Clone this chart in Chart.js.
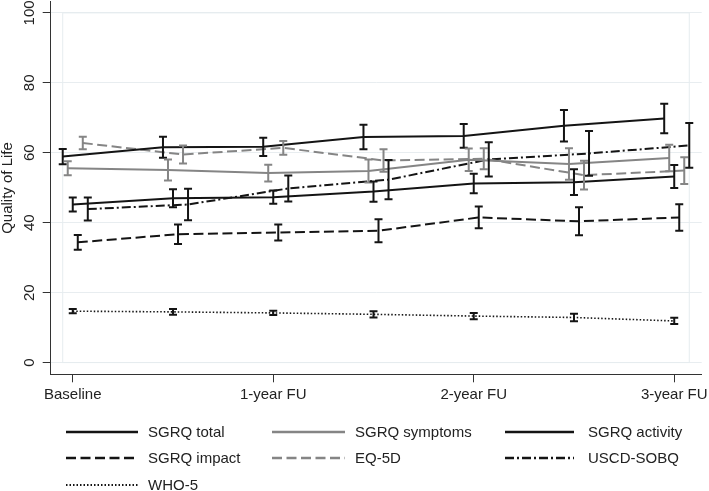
<!DOCTYPE html>
<html>
<head>
<meta charset="utf-8">
<script src="https://cdn.jsdelivr.net/npm/chart.js@4.4.1/dist/chart.umd.min.js"></script>
<style>
html,body{margin:0;padding:0;background:#fff;}
#wrap{position:relative;width:709px;height:491px;overflow:hidden;}
#legend{position:absolute;left:0;top:0;width:709px;height:491px;pointer-events:none;
  font-family:"Liberation Sans",Arial,sans-serif;font-size:15px;color:#222;}
.item{position:absolute;height:20px;line-height:20px;white-space:nowrap;}
.item svg{position:absolute;top:0;}
.item span{position:absolute;top:0;}
</style>
</head>
<body>
<div id="wrap">
  <canvas id="c" width="709" height="491"></canvas>
  <div id="legend"></div>
</div>
<script>
// ---------- data ----------
const timePoints = [0, 0.5, 1, 1.5, 2, 2.5, 3];
const tickValues = [0, 1, 2, 3];
const tickLabels = ['Baseline', '1-year FU', '2-year FU', '3-year FU'];
const yTickValues = [0, 20, 40, 60, 80, 100];
const yTitle = 'Quality of Life';
const seriesNames = ['SGRQ total', 'SGRQ symptoms', 'SGRQ activity', 'SGRQ impact', 'EQ-5D', 'USCD-SOBQ', 'WHO-5'];

const sgrqTotal        = [58.9, 61.6, 61.7, 64.5, 64.8, 67.7, 69.8];
const sgrqTotalErr     = [2.2, 3.0, 2.6, 3.5, 3.4, 4.5, 4.2];
const sgrqSymptoms     = [55.6, 55.1, 54.2, 54.8, 58.0, 56.8, 58.5];
const sgrqSymptomsErr  = [2.0, 3.0, 2.4, 3.3, 3.2, 4.5, 3.8];
const sgrqActivity     = [45.2, 47.0, 47.3, 48.9, 51.2, 51.6, 53.2];
const sgrqActivityErr  = [2.0, 2.6, 1.9, 2.9, 2.8, 3.7, 3.3];
const sgrqImpact       = [34.4, 36.7, 37.2, 37.7, 41.5, 40.4, 41.5];
const sgrqImpactErr    = [2.1, 2.8, 2.3, 3.3, 3.1, 4.0, 3.8];
const eq5d             = [62.8, 59.5, 61.4, 57.8, 58.3, 53.6, 54.9];
const eq5dErr          = [1.8, 2.6, 2.0, 3.2, 3.0, 4.1, 3.8];
const ucsdSobq         = [43.9, 45.2, 49.8, 52.3, 58.1, 59.8, 62.1];
const ucsdSobqErr      = [3.3, 4.5, 3.7, 5.6, 4.9, 6.4, 6.4];
const who5             = [14.7, 14.5, 14.2, 13.8, 13.3, 12.9, 11.9];
const who5Err          = [0.6, 0.8, 0.6, 0.9, 0.9, 1.1, 0.9];

const seriesMeans = [sgrqTotal, sgrqSymptoms, sgrqActivity, sgrqImpact, eq5d, ucsdSobq, who5];
const seriesErrs  = [sgrqTotalErr, sgrqSymptomsErr, sgrqActivityErr, sgrqImpactErr, eq5dErr, ucsdSobqErr, who5Err];

// ---------- styles ----------
const BLACK = '#141414', GREY = '#858585';
const seriesStyles = [
  {color: BLACK, width: 2,   dash: [],            dodge: -0.05},
  {color: GREY,  width: 2,   dash: [],            dodge: -0.025},
  {color: BLACK, width: 2,   dash: [],            dodge: 0},
  {color: BLACK, width: 2,   dash: [10, 4.5],     dodge: 0.025},
  {color: GREY,  width: 2,   dash: [10, 4.5],     dodge: 0.05},
  {color: BLACK, width: 2,   dash: [9, 3, 2, 3],  dodge: 0.075},
  {color: BLACK, width: 1.6, dash: [1.5, 2],      dodge: 0}
];
const legendCols = [{lx: 66, lw: 72, tx: 148}, {lx: 272, lw: 73, tx: 355}, {lx: 505, lw: 69, tx: 588}];
const legendRows = [431.5, 458.3, 485];

Chart.defaults.font.family = "'Liberation Sans', Arial, sans-serif";
Chart.defaults.color = '#222';

const datasets = seriesNames.map((name, i) => ({
  label: name,
  data: timePoints.map((t, j) => ({x: t + seriesStyles[i].dodge, y: seriesMeans[i][j]})),
  errors: seriesErrs[i],
  borderColor: seriesStyles[i].color,
  backgroundColor: seriesStyles[i].color,
  borderWidth: seriesStyles[i].width,
  borderDash: seriesStyles[i].dash,
  pointRadius: 0,
  pointHoverRadius: 0,
  tension: 0,
  fill: false
}));

const frameAndErrorBars = {
  id: 'frameAndErrorBars',
  beforeDatasetsDraw(chart) {
    const {ctx, scales: {x, y}} = chart;
    ctx.save();
    ctx.strokeStyle = '#e6ecef';
    ctx.lineWidth = 1;
    const l = x.getPixelForValue(-0.05), r = x.getPixelForValue(3.075);
    const t = y.getPixelForValue(100), b = y.getPixelForValue(0);
    ctx.strokeRect(l, t, r - l, b - t);
    ctx.restore();
  },
  afterDatasetsDraw(chart) {
    const {ctx, scales: {x, y}} = chart;
    ctx.save();
    chart.data.datasets.forEach((ds, i) => {
      ctx.strokeStyle = ds.borderColor;
      ctx.lineWidth = 2;
      ctx.setLineDash([]);
      ds.data.forEach((pt, j) => {
        const e = ds.errors[j];
        const px = x.getPixelForValue(pt.x);
        const top = y.getPixelForValue(pt.y + e);
        const bot = y.getPixelForValue(pt.y - e);
        const cap = 4;
        ctx.beginPath();
        ctx.moveTo(px, top); ctx.lineTo(px, bot);
        ctx.moveTo(px - cap, top); ctx.lineTo(px + cap, top);
        ctx.moveTo(px - cap, bot); ctx.lineTo(px + cap, bot);
        ctx.stroke();
      });
    });
    ctx.restore();
  }
};

new Chart(document.getElementById('c'), {
  type: 'line',
  data: {datasets},
  plugins: [frameAndErrorBars],
  options: {
    responsive: false,
    animation: false,
    devicePixelRatio: 1,
    layout: {padding: {top: 1.7, right: 7.3, left: 0, bottom: 0}},
    plugins: {legend: {display: false}, tooltip: {enabled: false}},
    scales: {
      x: {
        type: 'linear',
        min: -0.11,
        max: 3.137,
        afterBuildTicks: s => { s.ticks = tickValues.map(v => ({value: v})); },
        afterFit: s => { s.height = 116.7; s.paddingLeft = 0; s.paddingRight = 0; },
        ticks: {
          autoSkip: false, maxRotation: 0, padding: 4,
          font: {size: 15}, color: '#222',
          callback: (v) => tickLabels[tickValues.indexOf(v)]
        },
        grid: {drawOnChartArea: false, tickLength: 8, tickColor: '#333', lineWidth: 1},
        border: {color: '#333', width: 1}
      },
      y: {
        type: 'linear',
        min: -3.35,
        max: 103.2,
        afterBuildTicks: s => { s.ticks = yTickValues.map(v => ({value: v})); },
        afterFit: s => { s.width = 50.7; s.paddingTop = 0; s.paddingBottom = 0; },
        ticks: {
          minRotation: 90, maxRotation: 90, crossAlign: 'center', padding: 0,
          font: {size: 15}, color: '#222'
        },
        grid: {color: '#e8edf0', tickColor: '#333', tickLength: 8, lineWidth: 1},
        border: {color: '#333', width: 1},
        title: {display: true, text: yTitle, font: {size: 15, lineHeight: 1}, padding: 0, color: '#222'}
      }
    }
  }
});

// ---------- legend (HTML) ----------
const legend = document.getElementById('legend');
seriesNames.forEach((name, i) => {
  const col = legendCols[i % 3];
  const rowY = legendRows[Math.floor(i / 3)];
  const st = seriesStyles[i];
  const item = document.createElement('div');
  item.className = 'item';
  item.style.left = col.lx + 'px';
  item.style.top = (rowY - 10) + 'px';
  const svgNS = 'http://www.w3.org/2000/svg';
  const svg = document.createElementNS(svgNS, 'svg');
  svg.setAttribute('width', col.lw);
  svg.setAttribute('height', 20);
  svg.style.left = '0px';
  const line = document.createElementNS(svgNS, 'line');
  line.setAttribute('x1', 0); line.setAttribute('x2', col.lw);
  line.setAttribute('y1', 10); line.setAttribute('y2', 10);
  line.setAttribute('stroke', st.color);
  line.setAttribute('stroke-width', st.width + 0.3);
  if (st.dash.length) line.setAttribute('stroke-dasharray', st.dash.join(' '));
  svg.appendChild(line);
  const span = document.createElement('span');
  span.textContent = name;
  span.style.left = (col.tx - col.lx) + 'px';
  item.appendChild(svg);
  item.appendChild(span);
  legend.appendChild(item);
});
</script>
</body>
</html>
